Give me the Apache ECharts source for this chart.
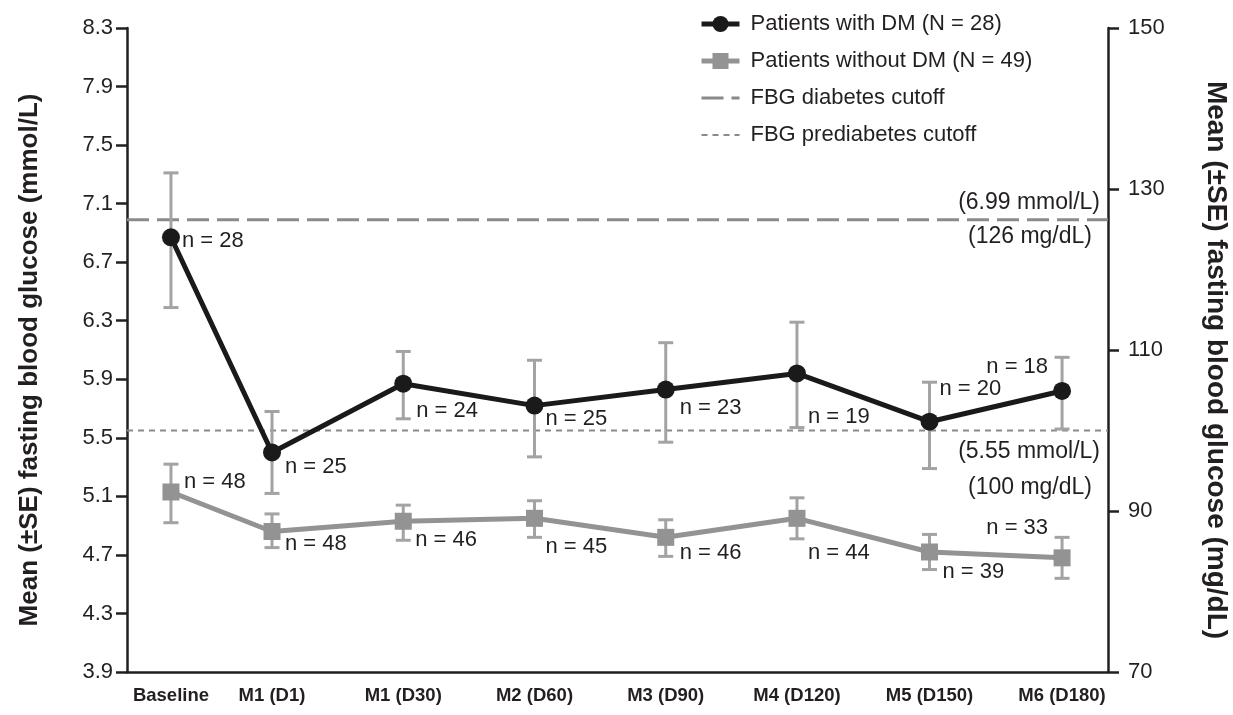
<!DOCTYPE html>
<html>
<head>
<meta charset="utf-8">
<script src="https://cdn.jsdelivr.net/npm/echarts@6/dist/echarts.min.js"></script>
<style>
html,body{margin:0;padding:0;background:#fff;}
#chart{width:1233px;height:715px;}
</style>
</head>
<body>
<div id="chart"></div>
<script>
// ---------- data ----------
const categories = ['Baseline', 'M1 (D1)', 'M1 (D30)', 'M2 (D60)', 'M3 (D90)', 'M4 (D120)', 'M5 (D150)', 'M6 (D180)'];
const slotPos = [0, 0.77, 1.77, 2.77, 3.77, 4.77, 5.78, 6.79];
const dmMean = [6.87, 5.40, 5.87, 5.72, 5.83, 5.94, 5.61, 5.82];
const dmLow  = [6.39, 5.12, 5.63, 5.37, 5.47, 5.57, 5.29, 5.56];
const dmHigh = [7.31, 5.68, 6.09, 6.03, 6.15, 6.29, 5.88, 6.05];
const dmN    = [28, 25, 24, 25, 23, 19, 20, 18];
const nonMean = [5.13, 4.86, 4.93, 4.95, 4.82, 4.95, 4.72, 4.68];
const nonLow  = [4.92, 4.75, 4.80, 4.82, 4.69, 4.81, 4.60, 4.54];
const nonHigh = [5.32, 4.98, 5.04, 5.07, 4.94, 5.09, 4.84, 4.82];
const nonN    = [48, 48, 46, 45, 46, 44, 39, 33];
const leftTicks = [3.9, 4.3, 4.7, 5.1, 5.5, 5.9, 6.3, 6.7, 7.1, 7.5, 7.9, 8.3];
const rightTicks = [70, 90, 110, 130, 150];
const cutoffMmol = [6.99, 5.55];
const cutoffMg = [126, 100];
const seriesNames = ['Patients with DM (N = 28)', 'Patients without DM (N = 49)', 'FBG diabetes cutoff', 'FBG prediabetes cutoff'];

// ---------- layout (not data) ----------
const xMin = -0.335, xMax = 7.14;
const dmLabelLayout = [[11, 4, 'left'], [13, 14, 'left'], [13, 27, 'left'], [11, 13, 'left'], [14, 18, 'left'], [11, 44, 'left'], [10, -33, 'left'], [-14, -24, 'right']];
const nonLabelLayout = [[13, -10, 'left'], [13, 12, 'left'], [12, 19, 'left'], [11, 29, 'left'], [14, 16, 'left'], [11, 35, 'left'], [13, 20, 'left'], [-14, -30, 'right']];
const annotLayout = [[-8, -17], [-16, 17], [-8, 21], [-16, 57]];

const FONT = 'Liberation Sans, Arial, Helvetica, sans-serif';
const TXT = '#231f20';
const DM_COLOR = '#1a1a1a';
const NON_COLOR = '#939393';
const ERR_COLOR = '#a3a3a3';
const CUT_COLOR = '#8a8a8a';

function pointData(mean, ns, layout) {
  return mean.map((v, i) => ({
    value: [slotPos[i], v],
    label: {
      show: true,
      formatter: 'n = ' + ns[i],
      position: 'inside',
      align: layout[i][2],
      verticalAlign: 'middle',
      offset: [layout[i][0], layout[i][1]],
      fontSize: 22, fontFamily: FONT, color: TXT
    }
  }));
}

function errData(low, high) {
  return low.map((l, i) => [slotPos[i], l, high[i]]);
}

function renderErr(params, api) {
  const x = api.value(0);
  const pLo = api.coord([x, api.value(1)]);
  const pHi = api.coord([x, api.value(2)]);
  const hw = 7.5;
  const style = { stroke: ERR_COLOR, lineWidth: 3, fill: null };
  return {
    type: 'group',
    children: [
      { type: 'line', shape: { x1: pLo[0], y1: pLo[1], x2: pHi[0], y2: pHi[1] }, style: style },
      { type: 'line', shape: { x1: pLo[0] - hw, y1: pLo[1], x2: pLo[0] + hw, y2: pLo[1] }, style: style },
      { type: 'line', shape: { x1: pHi[0] - hw, y1: pHi[1], x2: pHi[0] + hw, y2: pHi[1] }, style: style }
    ]
  };
}

const annotTexts = [
  '(' + cutoffMmol[0].toFixed(2) + ' mmol/L)', '(' + cutoffMg[0] + ' mg/dL)',
  '(' + cutoffMmol[1].toFixed(2) + ' mmol/L)', '(' + cutoffMg[1] + ' mg/dL)'
];
const annotData = annotTexts.map((t, i) => ({
  value: [xMax, cutoffMmol[Math.floor(i / 2)]],
  itemStyle: { opacity: 1 },
  label: {
    show: true, formatter: t, position: 'inside', align: 'right', verticalAlign: 'middle',
    offset: annotLayout[i], fontSize: 23, fontFamily: FONT, color: TXT, opacity: 1
  }
}));

const chart = echarts.init(document.getElementById('chart'), null, { renderer: 'canvas' });

const axisLineStyle = { color: TXT, width: 2.5 };

const option = {
  backgroundColor: '#ffffff',
  animation: false,
  textStyle: { fontFamily: FONT },
  grid: { left: 127, right: 125, top: 28, bottom: 43, containLabel: false, outerBoundsMode: 'none' },
  legend: {
    data: [
      { name: seriesNames[0], lineStyle: { width: 5 } },
      { name: seriesNames[1], lineStyle: { width: 5 } },
      { name: seriesNames[2], lineStyle: { width: 3 } },
      { name: seriesNames[3], lineStyle: { width: 2 } }
    ],
    orient: 'vertical',
    left: 694,
    top: 8,
    itemWidth: 38,
    itemHeight: 20,
    itemGap: 15,
    textStyle: { fontSize: 22, fontFamily: FONT, color: TXT, padding: [0, 0, 0, 6] },
    selectedMode: false
  },
  xAxis: {
    type: 'value',
    min: xMin,
    max: xMax,
    splitLine: { show: false },
    axisLine: { show: true, onZero: false, lineStyle: axisLineStyle },
    axisTick: { show: false },
    axisLabel: {
      customValues: slotPos,
      formatter: function (v) {
        let best = 0, d = Infinity;
        slotPos.forEach((p, i) => { if (Math.abs(p - v) < d) { d = Math.abs(p - v); best = i; } });
        return categories[best];
      },
      fontSize: 18.5, fontWeight: 'bold', color: TXT, fontFamily: FONT, margin: 14
    }
  },
  yAxis: [
    {
      type: 'value',
      min: 3.9, max: 8.3,
      position: 'left',
      splitLine: { show: false },
      axisLine: { show: true, onZero: false, lineStyle: axisLineStyle },
      axisTick: { show: true, customValues: leftTicks, length: 11, lineStyle: axisLineStyle },
      axisLabel: {
        customValues: leftTicks,
        formatter: v => v.toFixed(1),
        fontSize: 22, color: TXT, fontFamily: FONT, margin: 14
      },
      name: 'Mean (\u00b1SE) fasting blood glucose (mmol/L)',
      nameLocation: 'middle',
      nameRotate: 90,
      nameGap: 84,
      nameTextStyle: { fontSize: 26, fontWeight: 'bold', color: TXT, fontFamily: FONT, padding: [0, 20, 0, 0] }
    },
    {
      type: 'value',
      min: 70, max: 150,
      position: 'right',
      splitLine: { show: false },
      axisLine: { show: true, onZero: false, lineStyle: axisLineStyle },
      axisTick: { show: true, customValues: rightTicks, length: 11, lineStyle: axisLineStyle },
      axisLabel: {
        customValues: rightTicks,
        fontSize: 22, color: TXT, fontFamily: FONT, margin: 20
      },
      name: 'Mean (\u00b1SE) fasting blood glucose (mg/dL)',
      nameLocation: 'middle',
      nameRotate: -90,
      nameGap: 94,
      nameTextStyle: { fontSize: 28, fontWeight: 'bold', color: TXT, fontFamily: FONT, padding: [0, 0, 0, 20] }
    }
  ],
  series: [
    {
      name: seriesNames[2],
      type: 'line',
      data: [[xMin, cutoffMmol[0]], [xMax, cutoffMmol[0]]],
      symbol: 'none',
      silent: true,
      itemStyle: { color: 'rgba(0,0,0,0)' },
      lineStyle: { color: CUT_COLOR, width: 3, type: [22, 8] },
      z: 1
    },
    {
      name: seriesNames[3],
      type: 'line',
      data: [[xMin, cutoffMmol[1]], [xMax, cutoffMmol[1]]],
      symbol: 'none',
      silent: true,
      itemStyle: { color: 'rgba(0,0,0,0)' },
      lineStyle: { color: CUT_COLOR, width: 2, type: [6, 5] },
      z: 1
    },
    {
      name: 'dmErr',
      type: 'custom',
      renderItem: renderErr,
      data: errData(dmLow, dmHigh),
      encode: { x: 0, y: [1, 2] },
      silent: true,
      z: 2
    },
    {
      name: 'nonErr',
      type: 'custom',
      renderItem: renderErr,
      data: errData(nonLow, nonHigh),
      encode: { x: 0, y: [1, 2] },
      silent: true,
      z: 2
    },
    {
      name: seriesNames[1],
      type: 'line',
      data: pointData(nonMean, nonN, nonLabelLayout),
      symbol: 'rect',
      symbolSize: 17,
      itemStyle: { color: NON_COLOR },
      lineStyle: { color: NON_COLOR, width: 5 },
      z: 3
    },
    {
      name: seriesNames[0],
      type: 'line',
      data: pointData(dmMean, dmN, dmLabelLayout),
      symbol: 'circle',
      symbolSize: 18,
      itemStyle: { color: DM_COLOR },
      lineStyle: { color: DM_COLOR, width: 5 },
      z: 4
    },
    {
      name: 'annotations',
      type: 'scatter',
      data: annotData,
      symbolSize: 0,
      silent: true,
      z: 5
    }
  ]
};

chart.setOption(option);
</script>
</body>
</html>
